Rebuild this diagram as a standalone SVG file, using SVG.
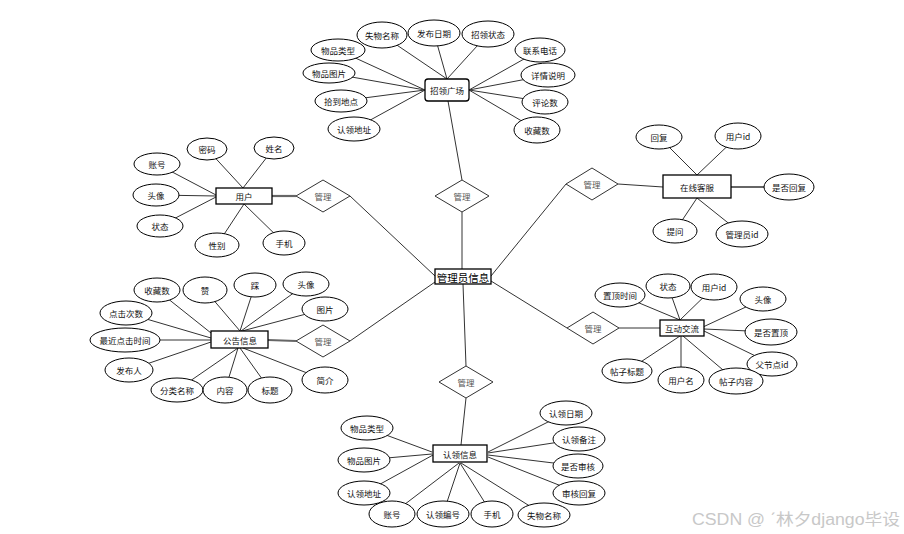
<svg xmlns="http://www.w3.org/2000/svg" width="904" height="534" viewBox="0 0 904 534">
<style>
.l{stroke:#333;stroke-width:1;fill:none}
.tk{stroke:#666;stroke-width:2.2;fill:none}
.e{fill:#fff;stroke:#000;stroke-width:1}
.b{fill:#fff;stroke:#000;stroke-width:1.3}
.d{fill:#fff;stroke:#333;stroke-width:1}
text{font-family:"Noto Sans CJK SC","Liberation Sans",sans-serif;font-size:8.5px;fill:#111;text-anchor:middle;dominant-baseline:central}
.dt{fill:#555}
.ct{font-size:10.5px;fill:#000}
.wm{font-family:"Liberation Sans","Noto Sans CJK SC",sans-serif;font-size:16px;fill:#c8c8c8;text-anchor:start;dominant-baseline:auto}
</style>
<rect width="904" height="534" fill="#fff"/>
<g id="connectors">
<line class="l" x1="462" y1="212" x2="462" y2="269"/>
<line class="l" x1="350" y1="196" x2="435" y2="276"/>
<line class="l" x1="566" y1="184" x2="491" y2="276"/>
<line class="l" x1="350" y1="341" x2="435" y2="282"/>
<line class="l" x1="567" y1="328" x2="491" y2="281"/>
<line class="l" x1="463" y1="284" x2="466" y2="366"/>
<line class="l" x1="448" y1="101" x2="462" y2="180"/>
<line class="tk" x1="272" y1="196" x2="296" y2="196"/>
<line class="l" x1="618" y1="184" x2="663" y2="187"/>
<line class="tk" x1="268" y1="340" x2="296" y2="341"/>
<line class="l" x1="619" y1="328" x2="660" y2="328"/>
<line class="l" x1="466" y1="398" x2="461" y2="445"/>
<line class="l" x1="382" y1="35" x2="447" y2="79"/>
<line class="l" x1="434" y1="33" x2="447" y2="79"/>
<line class="l" x1="488" y1="34" x2="447" y2="79"/>
<line class="l" x1="540" y1="50" x2="469" y2="90"/>
<line class="l" x1="548" y1="75" x2="469" y2="90"/>
<line class="l" x1="545" y1="102" x2="469" y2="90"/>
<line class="l" x1="537" y1="130" x2="469" y2="90"/>
<line class="l" x1="338" y1="50" x2="425" y2="90"/>
<line class="l" x1="329" y1="73" x2="425" y2="90"/>
<line class="l" x1="341" y1="101" x2="425" y2="90"/>
<line class="l" x1="354" y1="129" x2="425" y2="90"/>
<line class="l" x1="207" y1="149" x2="243" y2="188"/>
<line class="l" x1="274" y1="148" x2="243" y2="188"/>
<line class="l" x1="157" y1="164" x2="216" y2="195"/>
<line class="l" x1="156" y1="195" x2="216" y2="196"/>
<line class="l" x1="160" y1="226" x2="216" y2="197"/>
<line class="l" x1="217" y1="245" x2="244" y2="204"/>
<line class="l" x1="284" y1="243" x2="244" y2="204"/>
<line class="l" x1="659" y1="137" x2="697" y2="175"/>
<line class="l" x1="738" y1="136" x2="697" y2="175"/>
<line class="tk" x1="731" y1="187" x2="765" y2="187"/>
<line class="l" x1="675" y1="231" x2="697" y2="198"/>
<line class="l" x1="742" y1="234" x2="697" y2="198"/>
<line class="l" x1="157" y1="290" x2="211" y2="333"/>
<line class="l" x1="205" y1="290" x2="240" y2="331"/>
<line class="l" x1="255" y1="285" x2="240" y2="331"/>
<line class="l" x1="306" y1="284" x2="241" y2="331"/>
<line class="l" x1="325" y1="309" x2="242" y2="331"/>
<line class="l" x1="126" y1="313" x2="211" y2="338"/>
<line class="l" x1="125" y1="340" x2="211" y2="340"/>
<line class="l" x1="129" y1="370" x2="211" y2="342"/>
<line class="l" x1="177" y1="390" x2="238" y2="348"/>
<line class="l" x1="225" y1="390" x2="238" y2="348"/>
<line class="l" x1="270" y1="390" x2="240" y2="348"/>
<line class="l" x1="325" y1="380" x2="243" y2="348"/>
<line class="l" x1="620" y1="295" x2="680" y2="320"/>
<line class="l" x1="668" y1="286" x2="680" y2="320"/>
<line class="l" x1="714" y1="287" x2="680" y2="320"/>
<line class="l" x1="763" y1="299" x2="703" y2="327"/>
<line class="l" x1="771" y1="332" x2="704" y2="329"/>
<line class="l" x1="772" y1="364" x2="704" y2="331"/>
<line class="l" x1="736" y1="381" x2="683" y2="336"/>
<line class="l" x1="681" y1="380" x2="681" y2="336"/>
<line class="l" x1="627" y1="371" x2="680" y2="336"/>
<line class="l" x1="367" y1="428" x2="432" y2="452"/>
<line class="l" x1="364" y1="460" x2="432" y2="454"/>
<line class="l" x1="364" y1="493" x2="433" y2="455"/>
<line class="l" x1="392" y1="514" x2="459" y2="463"/>
<line class="l" x1="443" y1="514" x2="460" y2="463"/>
<line class="l" x1="492" y1="514" x2="460" y2="463"/>
<line class="l" x1="544" y1="515" x2="461" y2="463"/>
<line class="l" x1="579" y1="493" x2="488" y2="457"/>
<line class="l" x1="578" y1="466" x2="488" y2="455"/>
<line class="l" x1="579" y1="439" x2="488" y2="453"/>
<line class="l" x1="566" y1="413" x2="488" y2="452"/>
</g>

<g id="admin"><rect class="b" x="435" y="269" width="56" height="15"/><text class="ct" x="463" y="277">管理员信息</text></g>

<g id="rel-top"><polygon class="d" points="462,180 489,196 462,212 435,196"/><text class="dt" x="462" y="196">管理</text></g>
<g id="rel-user"><polygon class="d" points="323,180 350,196 323,212 296,196"/><text class="dt" x="323" y="196">管理</text></g>
<g id="rel-service"><polygon class="d" points="592,168 618,184 592,200 566,184"/><text class="dt" x="592" y="184">管理</text></g>
<g id="rel-notice"><polygon class="d" points="323,325 350,341 323,357 296,341"/><text class="dt" x="323" y="341">管理</text></g>
<g id="rel-forum"><polygon class="d" points="593,312 619,328 593,344 567,328"/><text class="dt" x="593" y="328">管理</text></g>
<g id="rel-claim"><polygon class="d" points="466,366 493,382 466,398 439,382"/><text class="dt" x="466" y="382">管理</text></g>

<g id="square"><rect class="b" x="425" y="79" width="44" height="22" rx="3"/><text x="447" y="90">招领广场</text></g>
<g id="sq-a1"><ellipse class="e" cx="382" cy="35" rx="25" ry="13"/><text x="382" y="35">失物名称</text></g>
<g id="sq-a2"><ellipse class="e" cx="434" cy="33" rx="26" ry="13"/><text x="434" y="33">发布日期</text></g>
<g id="sq-a3"><ellipse class="e" cx="488" cy="34" rx="26" ry="13"/><text x="488" y="34">招领状态</text></g>
<g id="sq-a4"><ellipse class="e" cx="540" cy="50" rx="25" ry="12"/><text x="540" y="50">联系电话</text></g>
<g id="sq-a5"><ellipse class="e" cx="548" cy="75" rx="27" ry="12"/><text x="548" y="75">详情说明</text></g>
<g id="sq-a6"><ellipse class="e" cx="545" cy="102" rx="23" ry="12"/><text x="545" y="102">评论数</text></g>
<g id="sq-a7"><ellipse class="e" cx="537" cy="130" rx="23" ry="13"/><text x="537" y="130">收藏数</text></g>
<g id="sq-a8"><ellipse class="e" cx="338" cy="50" rx="27" ry="11"/><text x="338" y="50">物品类型</text></g>
<g id="sq-a9"><ellipse class="e" cx="329" cy="73" rx="26" ry="10"/><text x="329" y="73">物品图片</text></g>
<g id="sq-a10"><ellipse class="e" cx="341" cy="101" rx="26" ry="11"/><text x="341" y="101">拾到地点</text></g>
<g id="sq-a11"><ellipse class="e" cx="354" cy="129" rx="26" ry="12"/><text x="354" y="129">认领地址</text></g>

<g id="user"><rect class="b" x="216" y="188" width="56" height="16"/><text x="244" y="196">用户</text></g>
<g id="u-a1"><ellipse class="e" cx="207" cy="149" rx="20" ry="11"/><text x="207" y="149">密码</text></g>
<g id="u-a2"><ellipse class="e" cx="274" cy="148" rx="20" ry="11"/><text x="274" y="148">姓名</text></g>
<g id="u-a3"><ellipse class="e" cx="157" cy="164" rx="23" ry="11"/><text x="157" y="164">账号</text></g>
<g id="u-a4"><ellipse class="e" cx="156" cy="195" rx="23" ry="11"/><text x="156" y="195">头像</text></g>
<g id="u-a5"><ellipse class="e" cx="160" cy="226" rx="23" ry="11"/><text x="160" y="226">状态</text></g>
<g id="u-a6"><ellipse class="e" cx="217" cy="245" rx="22" ry="12"/><text x="217" y="245">性别</text></g>
<g id="u-a7"><ellipse class="e" cx="284" cy="243" rx="21" ry="12"/><text x="284" y="243">手机</text></g>

<g id="service"><rect class="b" x="663" y="175" width="68" height="23"/><text x="697" y="186.5">在线客服</text></g>
<g id="s-a1"><ellipse class="e" cx="659" cy="137" rx="23" ry="12"/><text x="659" y="137">回复</text></g>
<g id="s-a2"><ellipse class="e" cx="738" cy="136" rx="23" ry="13"/><text x="738" y="136">用户id</text></g>
<g id="s-a3"><ellipse class="e" cx="789" cy="187" rx="25" ry="13"/><text x="789" y="187">是否回复</text></g>
<g id="s-a4"><ellipse class="e" cx="675" cy="231" rx="22" ry="12"/><text x="675" y="231">提问</text></g>
<g id="s-a5"><ellipse class="e" cx="742" cy="234" rx="26" ry="13"/><text x="742" y="234">管理员id</text></g>

<g id="notice"><rect class="b" x="211" y="331" width="57" height="17"/><text x="240" y="339.5">公告信息</text></g>
<g id="n-a1"><ellipse class="e" cx="157" cy="290" rx="23" ry="12"/><text x="157" y="290">收藏数</text></g>
<g id="n-a2"><ellipse class="e" cx="205" cy="290" rx="22" ry="13"/><text x="205" y="290">赞</text></g>
<g id="n-a3"><ellipse class="e" cx="255" cy="285" rx="21" ry="12"/><text x="255" y="285">踩</text></g>
<g id="n-a4"><ellipse class="e" cx="306" cy="284" rx="23" ry="12"/><text x="306" y="284">头像</text></g>
<g id="n-a5"><ellipse class="e" cx="325" cy="309" rx="23" ry="12"/><text x="325" y="309">图片</text></g>
<g id="n-a6"><ellipse class="e" cx="126" cy="313" rx="26" ry="12"/><text x="126" y="313">点击次数</text></g>
<g id="n-a7"><ellipse class="e" cx="125" cy="340" rx="35" ry="12"/><text x="125" y="340">最近点击时间</text></g>
<g id="n-a8"><ellipse class="e" cx="129" cy="370" rx="24" ry="12"/><text x="129" y="370">发布人</text></g>
<g id="n-a9"><ellipse class="e" cx="177" cy="390" rx="26" ry="12"/><text x="177" y="390">分类名称</text></g>
<g id="n-a10"><ellipse class="e" cx="225" cy="390" rx="22" ry="13"/><text x="225" y="390">内容</text></g>
<g id="n-a11"><ellipse class="e" cx="270" cy="390" rx="22" ry="13"/><text x="270" y="390">标题</text></g>
<g id="n-a12"><ellipse class="e" cx="325" cy="380" rx="23" ry="13"/><text x="325" y="380">简介</text></g>

<g id="forum"><rect class="b" x="660" y="320" width="44" height="16"/><text x="682" y="328">互动交流</text></g>
<g id="f-a1"><ellipse class="e" cx="620" cy="295" rx="25" ry="12"/><text x="620" y="295">置顶时间</text></g>
<g id="f-a2"><ellipse class="e" cx="668" cy="286" rx="22" ry="12"/><text x="668" y="286">状态</text></g>
<g id="f-a3"><ellipse class="e" cx="714" cy="287" rx="23" ry="13"/><text x="714" y="287">用户id</text></g>
<g id="f-a4"><ellipse class="e" cx="763" cy="299" rx="23" ry="12"/><text x="763" y="299">头像</text></g>
<g id="f-a5"><ellipse class="e" cx="771" cy="332" rx="26" ry="13"/><text x="771" y="332">是否置顶</text></g>
<g id="f-a6"><ellipse class="e" cx="772" cy="364" rx="25" ry="12"/><text x="772" y="364">父节点id</text></g>
<g id="f-a7"><ellipse class="e" cx="736" cy="381" rx="27" ry="13"/><text x="736" y="381">帖子内容</text></g>
<g id="f-a8"><ellipse class="e" cx="681" cy="380" rx="23" ry="13"/><text x="681" y="380">用户名</text></g>
<g id="f-a9"><ellipse class="e" cx="627" cy="371" rx="25" ry="12"/><text x="627" y="371">帖子标题</text></g>

<g id="claim"><rect class="b" x="433" y="445" width="54" height="17"/><text x="460" y="453.5">认领信息</text></g>
<g id="c-a1"><ellipse class="e" cx="367" cy="428" rx="26" ry="12"/><text x="367" y="428">物品类型</text></g>
<g id="c-a2"><ellipse class="e" cx="364" cy="460" rx="26" ry="12"/><text x="364" y="460">物品图片</text></g>
<g id="c-a3"><ellipse class="e" cx="364" cy="493" rx="26" ry="12"/><text x="364" y="493">认领地址</text></g>
<g id="c-a4"><ellipse class="e" cx="392" cy="514" rx="23" ry="13"/><text x="392" y="514">账号</text></g>
<g id="c-a5"><ellipse class="e" cx="443" cy="514" rx="26" ry="13"/><text x="443" y="514">认领编号</text></g>
<g id="c-a6"><ellipse class="e" cx="492" cy="514" rx="21" ry="13"/><text x="492" y="514">手机</text></g>
<g id="c-a7"><ellipse class="e" cx="544" cy="515" rx="26" ry="12"/><text x="544" y="515">失物名称</text></g>
<g id="c-a8"><ellipse class="e" cx="579" cy="493" rx="26" ry="12"/><text x="579" y="493">审核回复</text></g>
<g id="c-a9"><ellipse class="e" cx="578" cy="466" rx="25" ry="12"/><text x="578" y="466">是否审核</text></g>
<g id="c-a10"><ellipse class="e" cx="579" cy="439" rx="26" ry="12"/><text x="579" y="439">认领备注</text></g>
<g id="c-a11"><ellipse class="e" cx="566" cy="413" rx="26" ry="12"/><text x="566" y="413">认领日期</text></g>

<text class="wm" x="692" y="525" textLength="208" lengthAdjust="spacingAndGlyphs">CSDN @ ˊ林夕django毕设</text>
</svg>
